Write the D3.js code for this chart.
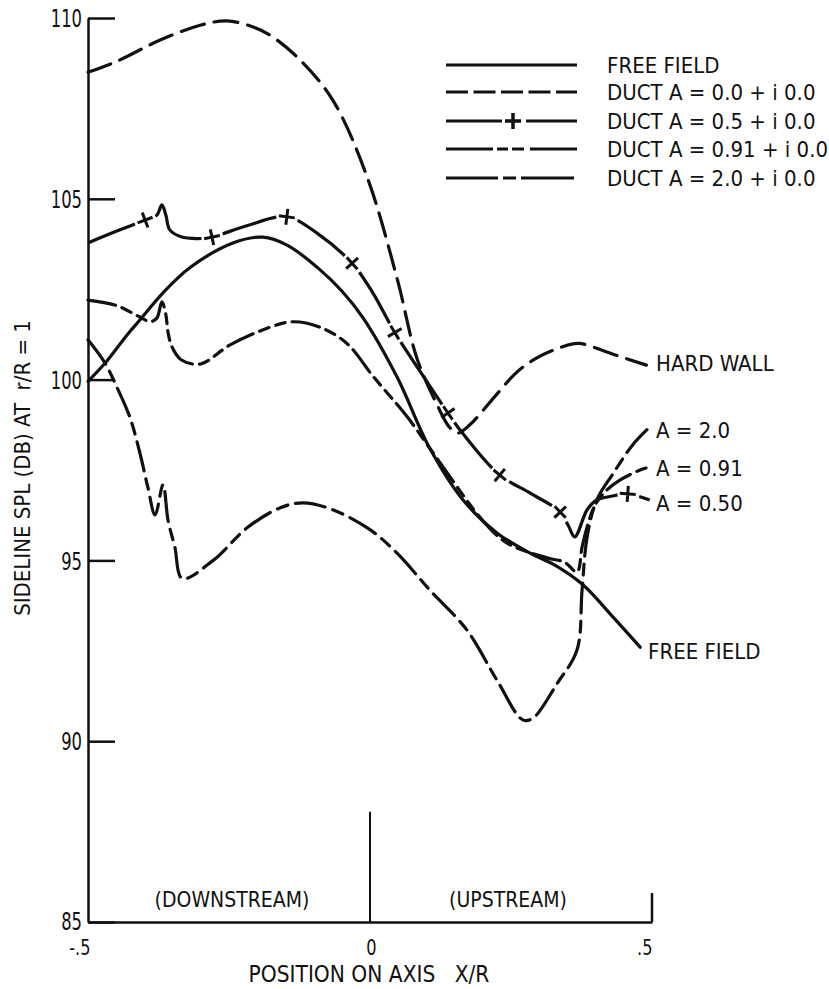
<!DOCTYPE html>
<html>
<head>
<meta charset="utf-8">
<script src="https://cdn.jsdelivr.net/npm/d3@7"></script>
<style>
  html, body { margin: 0; padding: 0; background: #fff; }
  svg { display: block; }
  text { font-family: "Liberation Sans Narrow", "DejaVu Sans Condensed", "Arial Narrow", sans-serif; fill: #111; }
</style>
</head>
<body>
<svg id="chart" width="829" height="989"></svg>
<script>
// Sideline SPL along the axis for the free field and several duct admittances.
// Each curve is a list of [x/R, SPL dB] points.

const freeField = [
  [-0.5, 99.95], [-0.47, 100.45], [-0.43, 101.25], [-0.408, 101.65], [-0.367, 102.4],
  [-0.319, 103.1], [-0.243, 103.78], [-0.19, 103.94], [-0.147, 103.72], [-0.094, 103.11],
  [-0.05, 102.45], [-0.012, 101.7], [0.048, 100.07], [0.106, 98.1], [0.165, 96.67],
  [0.225, 95.76], [0.284, 95.2], [0.33, 94.85], [0.378, 94.32], [0.431, 93.43], [0.479, 92.6]
];

const ductHardWall = [
  [-0.5, 108.5], [-0.449, 108.8], [-0.372, 109.39], [-0.301, 109.8], [-0.254, 109.92],
  [-0.207, 109.75], [-0.172, 109.47], [-0.124, 108.84], [-0.066, 107.73], [-0.005, 105.6],
  [0.048, 102.8], [0.083, 100.6], [0.119, 99.3], [0.14, 98.7], [0.155, 98.52],
  [0.177, 98.75], [0.225, 99.6], [0.26, 100.2], [0.296, 100.6], [0.34, 100.9],
  [0.37, 101.0], [0.431, 100.7], [0.49, 100.4]
];

const duct050 = [
  [-0.5, 103.78], [-0.45, 104.1], [-0.399, 104.41], [-0.378, 104.55], [-0.369, 104.83],
  [-0.362, 104.55], [-0.355, 104.14], [-0.335, 103.95], [-0.307, 103.9], [-0.28, 103.94],
  [-0.22, 104.25], [-0.147, 104.5], [-0.094, 104.05], [-0.032, 103.22], [0.005, 102.4],
  [0.044, 101.3], [0.09, 100.2], [0.138, 99.08], [0.165, 98.5], [0.23, 97.36],
  [0.284, 96.86], [0.337, 96.34], [0.352, 95.95], [0.363, 95.65], [0.385, 96.4],
  [0.402, 96.67], [0.43, 96.78], [0.457, 96.84], [0.496, 96.67]
];
// x/R positions of the "+" symbols on the A = 0.5 curve
const duct050Marks = [-0.399, -0.28, -0.147, -0.032, 0.044, 0.138, 0.23, 0.337, 0.457];

const duct091 = [
  [-0.5, 102.2], [-0.45, 102.05], [-0.408, 101.73], [-0.39, 101.6], [-0.378, 101.7],
  [-0.369, 102.15], [-0.362, 101.8], [-0.358, 101.3], [-0.351, 100.9], [-0.335, 100.55],
  [-0.301, 100.43], [-0.248, 100.96], [-0.177, 101.45], [-0.137, 101.6], [-0.089, 101.45],
  [-0.041, 101.0], [0.005, 100.1], [0.066, 98.97], [0.112, 97.97], [0.2, 96.1],
  [0.243, 95.48], [0.314, 95.07], [0.345, 94.95], [0.367, 94.68], [0.376, 95.37],
  [0.387, 96.03], [0.399, 96.53], [0.42, 96.95], [0.443, 97.22], [0.479, 97.5], [0.5, 97.6]
];

const duct200 = [
  [-0.5, 101.1], [-0.47, 100.46], [-0.449, 99.8], [-0.426, 98.97], [-0.408, 97.97],
  [-0.394, 97.03], [-0.381, 96.26], [-0.367, 97.09], [-0.358, 96.1], [-0.346, 95.37],
  [-0.333, 94.5], [-0.278, 95.0], [-0.218, 95.9], [-0.16, 96.45], [-0.119, 96.59],
  [-0.066, 96.4], [0.0, 95.85], [0.048, 95.2], [0.106, 94.18], [0.172, 93.07],
  [0.225, 91.69], [0.271, 90.59], [0.289, 90.64], [0.332, 91.6], [0.367, 92.52],
  [0.376, 94.18], [0.385, 95.65], [0.402, 96.67], [0.431, 97.4], [0.466, 98.2], [0.496, 98.69]
];

const yTicks = [85, 90, 95, 100, 105, 110];
const xTicks = [-0.5, 0, 0.5];
const xTickLabels = ["-.5", "0", ".5"];

const legendLabels = [
  "FREE FIELD",
  "DUCT A = 0.0 + i 0.0",
  "DUCT A = 0.5 + i 0.0",
  "DUCT A = 0.91 + i 0.0",
  "DUCT A = 2.0 + i 0.0"
];
const curveLabels = [
  { text: "HARD WALL", x: 0.5, v: 100.45 },
  { text: "A = 2.0", x: 0.5, v: 98.6 },
  { text: "A = 0.91", x: 0.5, v: 97.55 },
  { text: "A = 0.50", x: 0.5, v: 96.6 },
  { text: "FREE FIELD", x: 0.49, v: 92.5 }
];

const svg = d3.select("#chart");
const x = d3.scaleLinear().domain([-0.5, 0.5]).range([88, 652]);
const y = d3.scaleLinear().domain([85, 110]).range([922, 18]);

// ---- axes ----
const yAxis = d3.axisLeft(y).tickValues(yTicks).tickSizeInner(-27).tickSizeOuter(0)
  .tickPadding(6).tickFormat(d3.format("d"));
const gy = svg.append("g").attr("transform", `translate(${x(-0.5)},0)`).call(yAxis);
gy.select(".domain").attr("stroke", "#111").attr("stroke-width", 2.5);
gy.selectAll(".tick line").attr("stroke", "#111").attr("stroke-width", 2.5);
// tall, narrow numerals
gy.selectAll(".tick text").attr("font-size", 24).attr("x", 0)
  .attr("dy", d => d === 85 ? "0.3em" : "0.36em")
  .attr("transform", "translate(-6,0) scale(0.76,1)");

const xAxis = d3.axisBottom(x).tickValues(xTicks).tickSize(0).tickPadding(0)
  .tickFormat((d, i) => xTickLabels[i]);
const gx = svg.append("g").attr("transform", `translate(0,${y(85)})`).call(xAxis);
gx.select(".domain").attr("stroke", "#111").attr("stroke-width", 2.5);
gx.selectAll(".tick text").attr("font-size", 22).attr("y", 0).attr("dy", 0)
  .attr("text-anchor", d => d === 0 ? "middle" : "end")
  .attr("transform", d => `translate(${d === -0.5 ? 2 : d === 0.5 ? 0 : 1},33) scale(0.82,1)`);

// divider at x = 0 and end mark at x = .5
svg.append("line").attr("x1", x(0)).attr("x2", x(0)).attr("y1", y(88.05)).attr("y2", y(85))
  .attr("stroke", "#111").attr("stroke-width", 2);
svg.append("line").attr("x1", x(0.5)).attr("x2", x(0.5)).attr("y1", y(85.8)).attr("y2", y(85))
  .attr("stroke", "#111").attr("stroke-width", 2.5);

svg.append("text").attr("x", (x(-0.5) + x(0)) / 2 + 3).attr("y", 907)
  .attr("text-anchor", "middle").attr("font-size", 21).text("(DOWNSTREAM)");
svg.append("text").attr("x", (x(0) + x(0.5)) / 2 - 3).attr("y", 907)
  .attr("text-anchor", "middle").attr("font-size", 21).text("(UPSTREAM)");

svg.append("text").attr("x", 369).attr("y", 982).attr("text-anchor", "middle")
  .attr("font-size", 22.5).attr("xml:space", "preserve").text("POSITION ON AXIS   X/R");

svg.append("text").attr("transform", "translate(30,468) rotate(-90)")
  .attr("text-anchor", "middle").attr("font-size", 22).attr("xml:space", "preserve")
  .text("SIDELINE SPL (DB) AT  r/R = 1");

// ---- curves ----
const line = d3.line().x(d => x(d[0])).y(d => y(d[1])).curve(d3.curveCatmullRom.alpha(0.5));

const series = [
  { data: freeField, dash: null },
  { data: ductHardWall, dash: "24,10" },
  { data: duct091, dash: "28,7,10,7,10,7" },
  { data: duct200, dash: "30,8,11,8" }
];
series.forEach(s => {
  svg.append("path").attr("d", line(s.data)).attr("fill", "none")
    .attr("stroke", "#111").attr("stroke-width", 3.2)
    .attr("stroke-linecap", "round").attr("stroke-linejoin", "round")
    .attr("stroke-dasharray", s.dash);
});

// A = 0.5 curve: solid, broken around each "+" symbol
const p05 = svg.append("path").attr("d", line(duct050)).attr("fill", "none")
  .attr("stroke", "#111").attr("stroke-width", 3.2).attr("stroke-linejoin", "round");
const node = p05.node();
const total = node.getTotalLength();
const samples = [];
for (let l = 0; l <= total; l += 0.5) {
  const pt = node.getPointAtLength(l);
  samples.push({ l, x: pt.x, y: pt.y });
}
const gap = 11;
const markInfo = duct050Marks.map(mx => {
  const px = x(mx);
  let best = samples[0];
  samples.forEach(s => { if (Math.abs(s.x - px) < Math.abs(best.x - px)) best = s; });
  const a = node.getPointAtLength(Math.max(0, best.l - 3));
  const b = node.getPointAtLength(Math.min(total, best.l + 3));
  return { l: best.l, x: best.x, y: best.y, ang: Math.atan2(b.y - a.y, b.x - a.x) * 180 / Math.PI };
});
const dash = [];
let pos = 0;
markInfo.forEach(m => { dash.push(Math.max(0, m.l - gap - pos), 2 * gap); pos = m.l + gap; });
dash.push(Math.max(0, total - pos), total);
p05.attr("stroke-dasharray", dash.join(","));

const plus = "M-8,0H8M0,-8V8";
svg.append("g").selectAll("path").data(markInfo).join("path")
  .attr("d", plus)
  .attr("transform", d => `translate(${d.x},${d.y}) rotate(${d.ang})`)
  .attr("stroke", "#111").attr("stroke-width", 3).attr("fill", "none");

// ---- direct curve labels ----
svg.append("g").selectAll("text").data(curveLabels).join("text")
  .attr("x", (d, i) => i === 4 ? 648 : 656)
  .attr("y", (d) => y(d.v) + 8)
  .attr("font-size", 22).attr("xml:space", "preserve").text(d => d.text);

// ---- legend ----
const legendY = [65, 92, 121, 149, 178];
const legendDash = [null, "22,5.5", null, "47,4,11,4,12,6,47", "52,5,13,5,53"];
const lx0 = 446, lx1 = 577;
const lg = svg.append("g");
legendLabels.forEach((lab, i) => {
  const yy = legendY[i];
  if (i === 2) {
    const cx = 513;
    lg.append("line").attr("x1", lx0).attr("x2", cx - 11).attr("y1", yy).attr("y2", yy)
      .attr("stroke", "#111").attr("stroke-width", 3);
    lg.append("line").attr("x1", cx + 13).attr("x2", lx1).attr("y1", yy).attr("y2", yy)
      .attr("stroke", "#111").attr("stroke-width", 3);
    lg.append("path").attr("d", plus).attr("transform", `translate(${cx},${yy})`)
      .attr("stroke", "#111").attr("stroke-width", 3.5);
  } else {
    lg.append("line").attr("x1", lx0).attr("x2", lx1).attr("y1", yy).attr("y2", yy)
      .attr("stroke", "#111").attr("stroke-width", 3).attr("stroke-dasharray", legendDash[i]);
  }
  lg.append("text").attr("x", 607).attr("y", yy + 8).attr("font-size", 22).text(lab);
});
</script>
</body>
</html>
